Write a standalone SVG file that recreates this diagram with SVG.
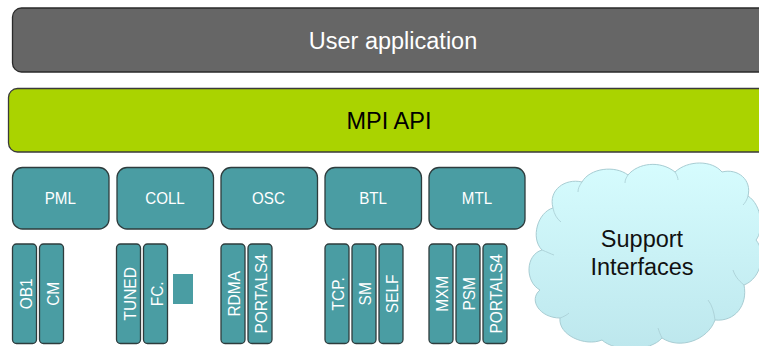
<svg xmlns="http://www.w3.org/2000/svg" width="759" height="346" viewBox="0 0 759 346">
<defs>
<linearGradient id="cloudGrad" x1="0" y1="0" x2="0" y2="1">
<stop offset="0" stop-color="#d6fcfe"/>
<stop offset="1" stop-color="#bde7ed"/>
</linearGradient>
</defs>
<style>
.big{font-family:"Liberation Sans",Arial,sans-serif;font-size:23.5px;text-anchor:middle}
.mod{fill:#4a9da3;stroke:#2e3c3d;stroke-width:1.3}
.lbl{font-family:"Liberation Sans",Arial,sans-serif;font-size:16.3px;fill:#ffffff;text-anchor:middle}
.sub{font-family:"Liberation Sans",Arial,sans-serif;font-size:15.5px;fill:#ffffff;text-anchor:middle}
</style>
<rect width="759" height="346" fill="#ffffff"/>
<g id="user-app">
<rect x="12.5" y="8" width="770" height="64" rx="9" fill="#666666" stroke="#2a2a2a" stroke-width="1.3"/>
<text class="big" x="393" y="48.5" fill="#ffffff">User application</text>
</g>
<g id="mpi-api">
<rect x="8.5" y="88.5" width="770" height="63.5" rx="9" fill="#aad300" stroke="#3a3a3a" stroke-width="1.3"/>
<text class="big" x="389" y="128.5" fill="#000000">MPI API</text>
</g>
<g id="pml"><rect class="mod" x="12.5" y="167.5" width="96.5" height="61.5" rx="10"/><text class="lbl" transform="translate(60.3 204) scale(0.93 1)">PML</text></g>
<g id="coll"><rect class="mod" x="117" y="167.5" width="96.5" height="61.5" rx="10"/><text class="lbl" transform="translate(165 204) scale(0.93 1)">COLL</text></g>
<g id="osc"><rect class="mod" x="221" y="167.5" width="96.5" height="61.5" rx="10"/><text class="lbl" transform="translate(268.5 204) scale(0.93 1)">OSC</text></g>
<g id="btl"><rect class="mod" x="325" y="167.5" width="96.5" height="61.5" rx="10"/><text class="lbl" transform="translate(373 204) scale(0.93 1)">BTL</text></g>
<g id="mtl"><rect class="mod" x="429" y="167.5" width="96" height="61.5" rx="10"/><text class="lbl" transform="translate(477 204) scale(0.93 1)">MTL</text></g>

<g id="ob1"><rect class="mod" x="12.5" y="244" width="24" height="99.5" rx="4"/><text class="sub" transform="translate(31.7 293.8) rotate(-90) scale(1 1.12)">OB1</text></g>
<g id="cm"><rect class="mod" x="39.5" y="244" width="24" height="99.5" rx="4"/><text class="sub" transform="translate(58.7 293.8) rotate(-90) scale(1 1.12)">CM</text></g>
<g id="tuned"><rect class="mod" x="116.5" y="244" width="24" height="99.5" rx="4"/><text class="sub" transform="translate(135.7 293.8) rotate(-90) scale(1 1.12)">TUNED</text></g>
<g id="fc"><rect class="mod" x="143.5" y="244" width="24" height="99.5" rx="4"/><text class="sub" transform="translate(162.7 293.8) rotate(-90) scale(1 1.12)">FC.</text></g>
<g id="small-square"><rect x="173" y="274" width="20" height="30" fill="#4a9da3"/></g>
<g id="rdma"><rect class="mod" x="221" y="244" width="24" height="99.5" rx="4"/><text class="sub" transform="translate(240.2 293.8) rotate(-90) scale(1 1.12)">RDMA</text></g>
<g id="portals4-osc"><rect class="mod" x="248" y="244" width="24" height="99.5" rx="4"/><text class="sub" transform="translate(267.2 293.8) rotate(-90) scale(1 1.12)">PORTALS4</text></g>
<g id="tcp"><rect class="mod" x="325" y="244" width="24" height="99.5" rx="4"/><text class="sub" transform="translate(344.2 293.8) rotate(-90) scale(1 1.12)">TCP.</text></g>
<g id="sm"><rect class="mod" x="352" y="244" width="24" height="99.5" rx="4"/><text class="sub" transform="translate(371.2 293.8) rotate(-90) scale(1 1.12)">SM</text></g>
<g id="self"><rect class="mod" x="379" y="244" width="24" height="99.5" rx="4"/><text class="sub" transform="translate(398.2 293.8) rotate(-90) scale(1 1.12)">SELF</text></g>
<g id="mxm"><rect class="mod" x="429" y="244" width="24" height="99.5" rx="4"/><text class="sub" transform="translate(448.2 293.8) rotate(-90) scale(1 1.12)">MXM</text></g>
<g id="psm"><rect class="mod" x="456" y="244" width="24" height="99.5" rx="4"/><text class="sub" transform="translate(475.2 293.8) rotate(-90) scale(1 1.12)">PSM</text></g>
<g id="portals4-mtl"><rect class="mod" x="483" y="244" width="24" height="99.5" rx="4"/><text class="sub" transform="translate(502.2 293.8) rotate(-90) scale(1 1.12)">PORTALS4</text></g>

<g id="support-interfaces">
<path d="M553,208 C548,190 565,178 582,182 C590,168 615,165 628,175 C638,163 660,160 675,172 C688,160 712,160 722,172 C738,168 752,180 748,196 C762,205 764,230 756,240 C766,252 762,278 744,285 C748,305 735,322 715,320 C708,340 680,350 662,338 C650,352 615,352 602,340 C585,347 558,335 560,318 C540,318 528,300 540,290 C525,282 525,255 542,250 C530,238 538,212 553,208 Z" fill="url(#cloudGrad)" stroke="#a8cdd3" stroke-width="1"/>
<g fill="none" stroke="#a8cdd3" stroke-width="0.8">
<path d="M553,208 C554,214 557,219 561,222"/>
<path d="M582,182 C579,186 578,189 578,192"/>
<path d="M628,175 C626,178 625,180 625,183"/>
<path d="M675,172 C677,175 678,178 678,180"/>
<path d="M748,196 C747,200 745,203 743,205"/>
<path d="M744,285 C738,280 735,276 733,270"/>
<path d="M715,320 C714,312 712,305 708,300"/>
<path d="M662,338 C660,334 659,331 658,328"/>
<path d="M560,318 C563,317 567,315 569,313"/>
<path d="M542,250 C547,252 551,254 554,255"/>
</g>
<text class="big" x="642" y="246.7" fill="#111111">Support</text>
<text class="big" x="642" y="275" fill="#111111">Interfaces</text>
</g>
</svg>
